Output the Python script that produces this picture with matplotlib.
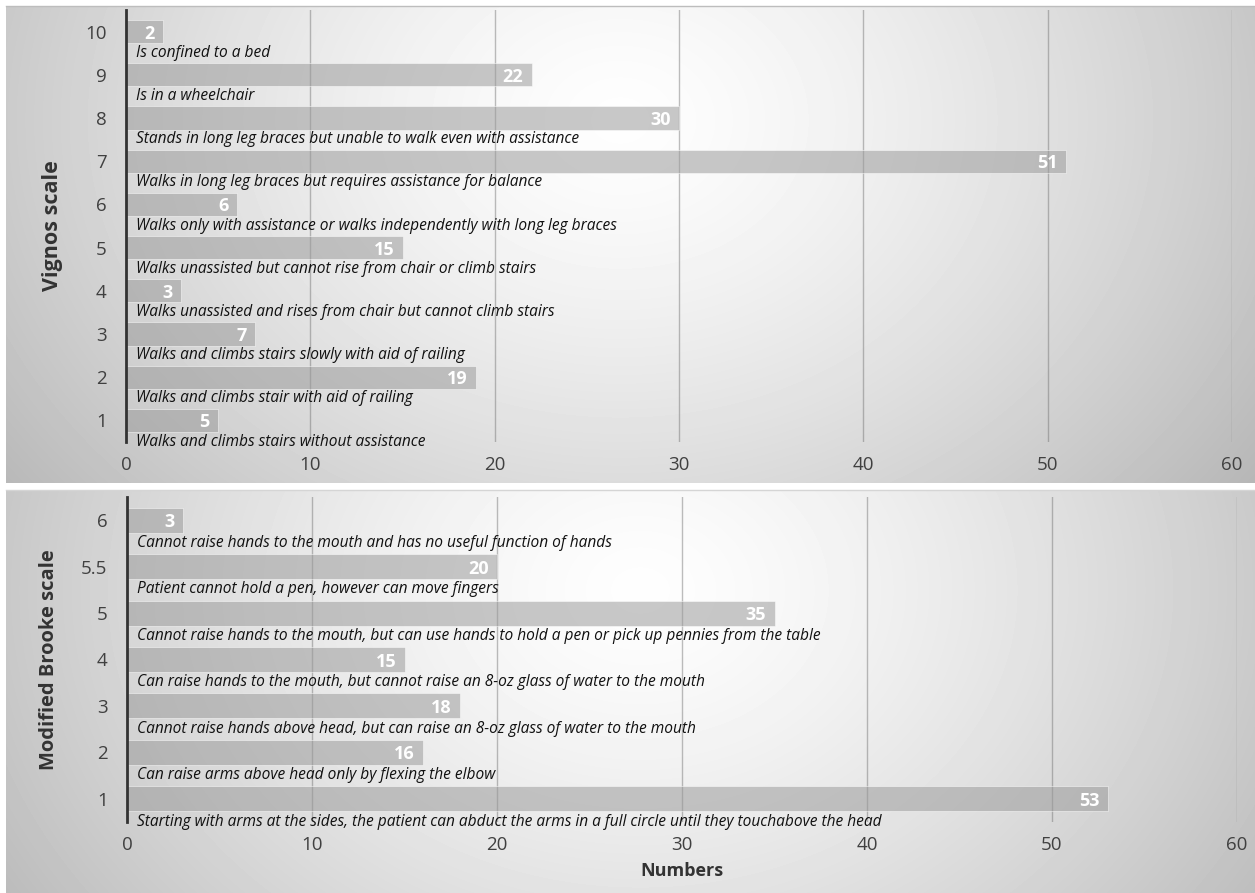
import numpy as np
import matplotlib
matplotlib.use("Agg")
import matplotlib.pyplot as plt

plt.rcParams['font.family'] = ['Open Sans', 'DejaVu Sans']

# Vignos scale (lower-extremity function)
vignos_levels = ['1', '2', '3', '4', '5', '6', '7', '8', '9', '10']
vignos_counts = [5, 19, 7, 3, 15, 6, 51, 30, 22, 2]
vignos_desc = [
    "Walks and climbs stairs without assistance",
    "Walks and climbs stair with aid of railing",
    "Walks and climbs stairs slowly with aid of railing",
    "Walks unassisted and rises from chair but cannot climb stairs",
    "Walks unassisted but cannot rise from chair or climb stairs",
    "Walks only with assistance or walks independently with long leg braces",
    "Walks in long leg braces but requires assistance for balance",
    "Stands in long leg braces but unable to walk even with assistance",
    "Is in a wheelchair",
    "Is confined to a bed",
]

# Modified Brooke scale (upper-extremity function)
brooke_levels = ['1', '2', '3', '4', '5', '5.5', '6']
brooke_counts = [53, 16, 18, 15, 35, 20, 3]
brooke_desc = [
    "Starting with arms at the sides, the patient can abduct the arms in a full circle until they touchabove the head",
    "Can raise arms above head only by flexing the elbow",
    "Cannot raise hands above head, but can raise an 8-oz glass of water to the mouth",
    "Can raise hands to the mouth, but cannot raise an 8-oz glass of water to the mouth",
    "Cannot raise hands to the mouth, but can use hands to hold a pen or pick up pennies from the table",
    "Patient cannot hold a pen, however can move fingers",
    "Cannot raise hands to the mouth and has no useful function of hands",
]

x_ticks = [0, 10, 20, 30, 40, 50, 60]

W, H = 1255, 893
fig = plt.figure(figsize=(W / 100, H / 100), dpi=100)
fig.patch.set_facecolor('white')


def px_rect(x0, y0, x1, y1):
    # pixel box (top-left origin) -> figure fraction rect
    return [x0 / W, 1 - y1 / H, (x1 - x0) / W, (y1 - y0) / H]


# radial grey backdrop behind each panel
bg = fig.add_axes([0, 0, 1, 1], zorder=-5)
bg.set_xlim(0, W)
bg.set_ylim(H, 0)
bg.axis('off')


def panel_bg(x0, y0, x1, y1, cx, cy):
    xs = np.arange(x0, x1)
    ys = np.arange(y0, y1)
    X, Y = np.meshgrid(xs, ys)
    d = np.sqrt(((X - cx) / 660.0) ** 2 + ((Y - cy) / 520.0) ** 2)
    v = np.clip(0.995 - 0.22 * d ** 1.4, 0, 1)
    bg.imshow(v, cmap='gray', vmin=0, vmax=1, extent=(x0, x1, y1, y0),
              aspect='auto', interpolation='bilinear')


panel_bg(6, 6, W, 483, 620, 120)
panel_bg(6, 490, W, H, 640, 590)
bg.plot([6, W], [6, 6], color='#bdbdbd', lw=1)
bg.plot([6, W], [490, 490], color='#d5d5d5', lw=1)


def draw_panel(rect, levels, counts, desc, ylabel, ylabel_size):
    ax = fig.add_axes(rect)
    ax.patch.set_visible(False)
    y = np.arange(len(levels))
    ax.barh(y, counts, height=0.54, color='#9c9c9c', alpha=0.55,
            edgecolor='white', linewidth=0.6, zorder=2)
    for yi, c, t in zip(y, counts, desc):
        ax.annotate(str(c), (c, yi), xytext=(-6, -1.5), textcoords='offset points',
                    ha='right', va='center', color='white', fontsize=13,
                    fontweight='bold', zorder=4)
        ax.annotate(t, (0, yi - 0.49), xytext=(7, 0), textcoords='offset points',
                    ha='left', va='center', fontsize=11.2, style='italic',
                    color='#111111', zorder=4)
    ax.set_xlim(0, 60)
    ax.set_ylim(-0.5, len(levels) - 0.5)
    ax.set_xticks(x_ticks)
    ax.set_yticks(y)
    ax.set_yticklabels(levels)
    ax.tick_params(axis='both', length=0, labelsize=13.5, colors='#404040')
    ax.tick_params(axis='y', pad=14)
    ax.tick_params(axis='x', pad=10)
    ax.grid(axis='x', color='#6e6e6e', alpha=0.45, lw=1, zorder=3)
    for s in ['top', 'right', 'bottom']:
        ax.spines[s].set_visible(False)
    ax.spines['left'].set_color('#333333')
    ax.spines['left'].set_linewidth(2)
    ax.spines['left'].set_zorder(5)
    ax.set_ylabel(ylabel, fontsize=ylabel_size, fontweight='bold',
                  color='#333333', labelpad=16)
    return ax


ax1 = draw_panel(px_rect(126, 10, 1232, 442), vignos_levels, vignos_counts,
                 vignos_desc, 'Vignos scale', 15.5)
ax2 = draw_panel(px_rect(127, 497, 1237, 822), brooke_levels, brooke_counts,
                 brooke_desc, 'Modified Brooke scale', 14.5)
ax2.set_xlabel('Numbers', fontsize=13, fontweight='bold', color='#333333',
               labelpad=6)

fig.savefig('out.png', dpi=100)
